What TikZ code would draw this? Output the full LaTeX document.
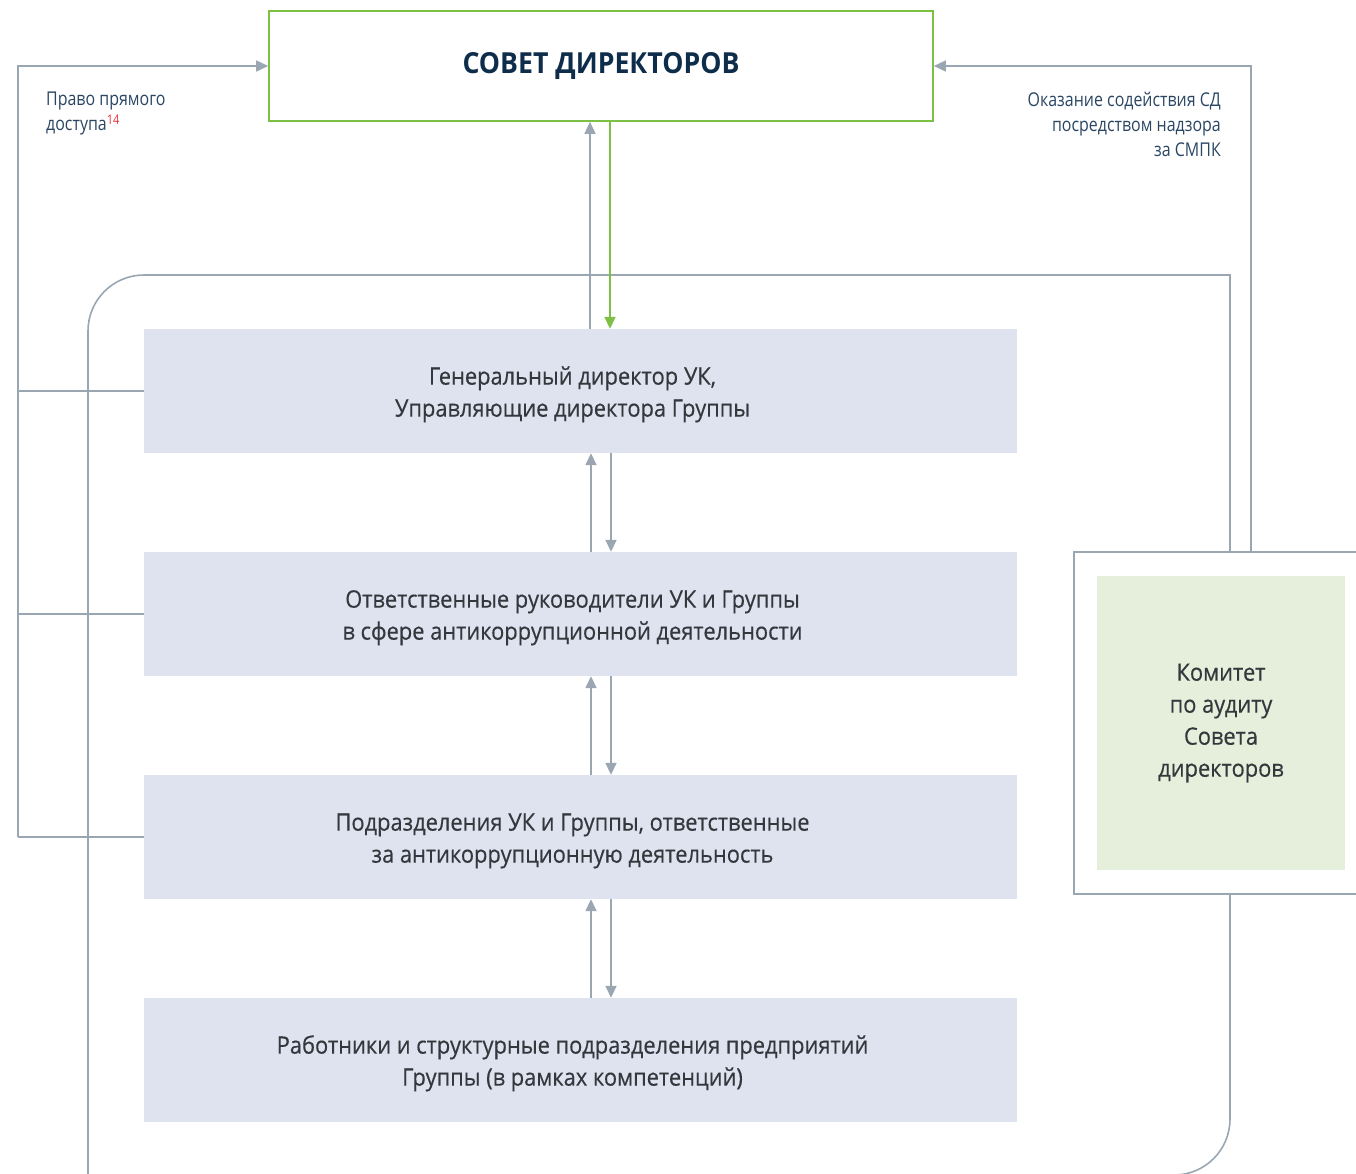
\documentclass[tikz,border=0pt]{standalone}
\usepackage{fontspec}
\setmainfont[FakeStretch=0.91,FakeBold=0.4]{Open Sans}
\newfontfamily\titlefont[FakeStretch=0.92]{Open Sans}
\newfontfamily\labfont[FakeStretch=0.84]{Open Sans}
\usetikzlibrary{arrows.meta}
\definecolor{lgray}{HTML}{9AA7B2}
\definecolor{lgreen}{HTML}{7CC144}
\definecolor{boxblue}{HTML}{DFE3EF}
\definecolor{boxgreen}{HTML}{E6EFDC}
\definecolor{navy}{HTML}{0E2D4A}
\definecolor{labnavy}{HTML}{2A4663}
\definecolor{txtgray}{HTML}{33383D}
\definecolor{supred}{HTML}{E8343C}
\newcommand\tstrut{\rule{0pt}{25pt}}
\newcommand\sh{\hspace*{16pt}}
\tikzset{
  lvl/.style={fill=boxblue, minimum width=873pt, minimum height=124pt, inner sep=0pt,
    align=center, text=txtgray, font=\fontsize{24}{32}\selectfont},
  gline/.style={draw=lgray, line width=1.6pt},
  garrow/.style={gline, -{Triangle[width=11pt,length=12pt]}},
  grarrow/.style={draw=lgreen, line width=1.6pt, -{Triangle[width=11pt,length=12pt]}},
  lab/.style={text=labnavy, font=\labfont\fontsize{19}{25}\selectfont, inner sep=0pt}
}
\begin{document}
\begin{tikzpicture}[x=1pt,y=-1pt]
\useasboundingbox (0,0) rectangle (1356,1173);
% big frame
\draw[gline, line cap=rect, rounded corners=56pt] (88,1200) -- (88,275) -- (1230,275);
\draw[gline, line cap=rect, rounded corners=56pt] (1230,275) -- (1230,1175) -- (1100,1175);
% top box
\node[draw=lgreen, line width=1.6pt, fill=white, minimum width=664pt, minimum height=110pt, inner sep=0pt,
  text=navy, font=\titlefont\fontsize{29}{34}\selectfont\bfseries] (sovet) at (601,66) {\raisebox{-2pt}{СОВЕТ ДИРЕКТОРОВ}};
% level boxes
\node[lvl] (b1) at (580.5,391) {\tstrut Генеральный директор УК,\sh\\Управляющие директора Группы\sh};
\node[lvl] (b2) at (580.5,614) {\tstrut Ответственные руководители УК и Группы\sh\\в сфере антикоррупционной деятельности\sh};
\node[lvl] (b3) at (580.5,837) {\tstrut Подразделения УК и Группы, ответственные\sh\\за антикоррупционную деятельность\sh};
\node[lvl] (b4) at (580.5,1060) {\tstrut Работники и структурные подразделения предприятий\sh\\Группы (в рамках компетенций)\sh};
% committee
\node[draw=lgray, line width=1.6pt, fill=white, minimum width=300pt, minimum height=342pt, inner sep=0pt] (kout) at (1224,723) {};
\node[fill=boxgreen, minimum width=248pt, minimum height=294pt, inner sep=0pt, align=center,
  text=txtgray, font=\fontsize{24}{32}\selectfont] (kom) at (1221,723) {Комитет\\по аудиту\\Совета\\директоров};
% left connector
\coordinate (lc) at (18,837);
\draw[gline] (b3.west) -- (lc);
\draw[garrow] (lc) |- (sovet.west);
\draw[gline] (b1.west) -- (b1.west -| lc);
\draw[gline] (b2.west) -- (b2.west -| lc);
% right connector
\coordinate (rc) at (1251,552);
\draw[garrow] (rc) |- (sovet.east);
% vertical arrows
\draw[garrow] (b1.north -| 590,0) -- (sovet.south -| 590,0);
\draw[grarrow] (sovet.south -| 610,0) -- (b1.north -| 610,0);
\draw[garrow] (b2.north -| 591,0) -- (b1.south -| 591,0);
\draw[garrow] (b1.south -| 611,0) -- (b2.north -| 611,0);
\draw[garrow] (b3.north -| 591,0) -- (b2.south -| 591,0);
\draw[garrow] (b2.south -| 611,0) -- (b3.north -| 611,0);
\draw[garrow] (b4.north -| 591,0) -- (b3.south -| 591,0);
\draw[garrow] (b3.south -| 611,0) -- (b4.north -| 611,0);
% labels
\node[lab, anchor=north west, align=left] (l1) at (46,92) {Право прямого\\доступа\textsuperscript{\textcolor{supred}{14}}};
\node[lab, anchor=north east, align=right] (l2) at (1221,92) {Оказание содействия СД\\посредством надзора\\за СМПК};
\end{tikzpicture}
\end{document}
